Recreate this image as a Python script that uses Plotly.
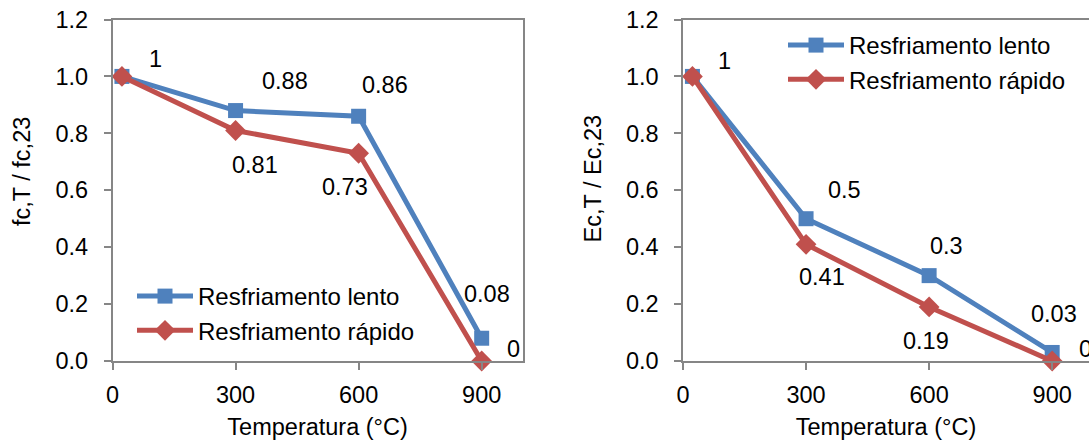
import plotly.graph_objects as go

temps = [23, 300, 600, 900]
fc_lento = [1, 0.88, 0.86, 0.08]
fc_rapido = [1, 0.81, 0.73, 0]
ec_lento = [1, 0.5, 0.3, 0.03]
ec_rapido = [1, 0.41, 0.19, 0]
x_ticks = [0, 300, 600, 900]
y_ticks = [0.0, 0.2, 0.4, 0.6, 0.8, 1.0, 1.2]
name_lento = "Resfriamento lento"
name_rapido = "Resfriamento rápido"
x_title = "Temperatura (°C)"
y_title_left = "fc,T / fc,23"
y_title_right = "Ec,T / Ec,23"

# label offsets (pixels, screen: +x right, +y down) relative to points
fc_lento_off = [(34, -17), (49, -30), (26, -31), (5, -44)]
fc_rapido_off = [(None, None), (19, 35), (-14, 34), (32, -12)]
ec_lento_off = [(32, -15), (38, -29), (17, -30), (2, -38)]
ec_rapido_off = [(None, None), (16, 33), (-3, 34), (33, -12)]

BLUE = "#4F81BD"
RED = "#C0504D"
AX = "#868686"
FONT = "Liberation Sans, Arial, sans-serif"
FS = 23.5
W, H = 1089, 445

fig = go.Figure()

def add_series(x, y, name, color, symbol, size, xa, ya, legend, group):
    fig.add_trace(go.Scatter(
        x=x, y=y, name=name, mode="lines+markers",
        line=dict(color=color, width=5),
        marker=dict(symbol=symbol, size=size, color=color),
        xaxis=xa, yaxis=ya, legend=legend, legendgroup=group, cliponaxis=False,
    ))

add_series(temps, fc_lento, name_lento, BLUE, "square", 15, "x", "y", "legend", "a1")
add_series(temps, fc_rapido, name_rapido, RED, "diamond", 16, "x", "y", "legend", "a2")
add_series(temps, ec_lento, name_lento, BLUE, "square", 15, "x2", "y2", "legend2", "b1")
add_series(temps, ec_rapido, name_rapido, RED, "diamond", 16, "x2", "y2", "legend2", "b2")

def labels(x, y, offs, xr, yr):
    for xi, yi, (dx, dy) in zip(x, y, offs):
        if dx is None:
            continue
        fig.add_annotation(x=xi, y=yi, xref=xr, yref=yr, text=f"{yi:g}",
                           showarrow=False, xshift=dx, yshift=-dy,
                           font=dict(family=FONT, size=FS, color="black"))

labels(temps, fc_lento, fc_lento_off, "x", "y")
labels(temps, fc_rapido, fc_rapido_off, "x", "y")
labels(temps, ec_lento, ec_lento_off, "x2", "y2")
labels(temps, ec_rapido, ec_rapido_off, "x2", "y2")

# y-axis titles (rotated)
for txt, px, py in [(y_title_left, 22, 172), (y_title_right, 592, 178.5)]:
    fig.add_annotation(x=px / W, y=1 - py / H, xref="paper", yref="paper", text=txt,
                       textangle=-90, showarrow=False, xanchor="center", yanchor="middle",
                       font=dict(family=FONT, size=FS, color="black"))

ytop = 1 - 19.5 / H
ybot = 1 - 361 / H

axis_common = dict(
    showgrid=False, zeroline=False, showline=True, linecolor=AX, linewidth=1.5,
    ticks="outside", ticklen=7, tickcolor=AX, tickwidth=1.5, automargin=False,
    tickfont=dict(family=FONT, size=FS, color="black"),
)

left_x0 = 112.5
left_x1 = 522.7
px_per = (left_x1 - left_x0) / 1000
right_x0 = 683
right_max = (W - right_x0) / px_per

xcommon = dict(axis_common, ticklabelstandoff=5, mirror=True, tickvals=x_ticks)
ycommon = dict(axis_common, ticklabelstandoff=11, tickvals=y_ticks, tickformat=".1f",
               range=[0, 1.2], domain=[ybot, ytop])

fig.update_layout(
    width=W, height=H, margin=dict(l=0, r=0, t=0, b=0, autoexpand=False),
    paper_bgcolor="white", plot_bgcolor="white",
    font=dict(family=FONT, size=FS, color="black"),
    xaxis=dict(domain=[left_x0 / W, left_x1 / W], range=[0, 1000], anchor="y",
               title=dict(text=x_title, standoff=12, font=dict(family=FONT, size=FS)),
               **xcommon),
    yaxis=dict(mirror=True, anchor="x", **ycommon),
    xaxis2=dict(domain=[right_x0 / W, 1.0], range=[0, right_max], anchor="y2",
                title=dict(text=x_title, standoff=12, font=dict(family=FONT, size=FS)),
                **xcommon),
    yaxis2=dict(mirror=False, anchor="x2", **ycommon),
    legend=dict(x=132 / W, y=1 - 274 / H, xanchor="left", yanchor="top",
                bgcolor="rgba(0,0,0,0)", font=dict(family=FONT, size=24),
                itemwidth=56, tracegroupgap=0),
    legend2=dict(x=783 / W, y=1 - 23 / H, xanchor="left", yanchor="top",
                 bgcolor="rgba(0,0,0,0)", font=dict(family=FONT, size=24),
                 itemwidth=56, tracegroupgap=0),
    showlegend=True,
)

fig.write_html("out.html")
